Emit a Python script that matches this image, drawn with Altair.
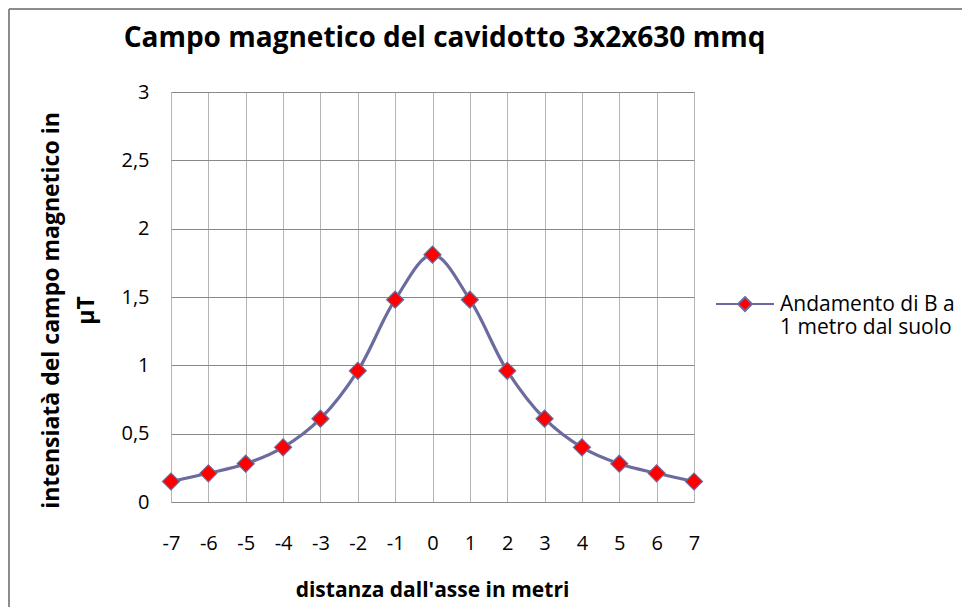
import altair as alt
import pandas as pd

distanza = [-7, -6, -5, -4, -3, -2, -1, 0, 1, 2, 3, 4, 5, 6, 7]
campo = [0.15, 0.21, 0.28, 0.40, 0.61, 0.96, 1.48, 1.81, 1.48, 0.96, 0.61, 0.40, 0.28, 0.21, 0.15]
y_ticks = [0, 0.5, 1, 1.5, 2, 2.5, 3]
serie = "Andamento di B a|1 metro dal suolo"
titolo = "Campo magnetico del cavidotto 3x2x630 mmq"
titolo_x = "distanza dall'asse in metri"
titolo_y = ["intensiatà del campo magnetico in", "µT"]

df = pd.DataFrame({"x": distanza, "y": campo, "serie": serie})

FONT = "Open Sans"
LINE = "#6B6B9E"
FRAME = "#8C8C8C"

x_enc = alt.X(
    "x:O",
    sort=distanza,
    scale=alt.Scale(type="point", padding=0, domain=distanza),
    axis=alt.Axis(
        title=titolo_x, grid=True, gridColor="#B4B4B4", gridWidth=1,
        domain=False, ticks=False, labelFontSize=20, labelPadding=31, labelFont=FONT,
        labelColor="#000000", labelExpr="toString(datum.value)", labelOverlap=False,
        labelAngle=0,
        titleFont=FONT, titleFontSize=21, titleFontWeight="bold",
        titleColor="#000000", titleBaseline="alphabetic", titleY=94, titleX=261,
    ),
)
y_enc = alt.Y(
    "y:Q",
    scale=alt.Scale(domain=[0, 3], nice=False),
    axis=alt.Axis(
        values=y_ticks, title=titolo_y, grid=True, gridColor="#888888", gridWidth=1,
        domain=False, ticks=False, labelFontSize=20, labelPadding=22, labelFont=FONT,
        labelColor="#000000", labelExpr="replace(toString(datum.value), '.', ',')",
        titleFont=FONT, titleFontSize=23, titleFontWeight="bold", titleColor="#000000",
        titleAngle=-90, titleBaseline="alphabetic", titleAlign="center",
        titleX=-113, titleY=218, titleLineHeight=35,
    ),
)

line = alt.Chart(df).mark_line(
    color=LINE, strokeWidth=3.2, interpolate="catmull-rom"
).encode(x=x_enc, y=y_enc)

points = alt.Chart(df).mark_point(
    shape="diamond", filled=True, size=290, stroke=LINE, strokeWidth=1.2, opacity=1
).encode(
    x=alt.X("x:O", sort=distanza),
    y="y:Q",
    fill=alt.Fill(
        "serie:N",
        scale=alt.Scale(range=["#FF0000"]),
        legend=alt.Legend(
            title=None, orient="none", legendX=544, legendY=189, padding=0,
            symbolType="M-1,-0.24L-0.24,-0.24M0.24,-0.24L1,-0.24M0,-0.48L0.24,-0.24L0,0L-0.24,-0.24Z",
            symbolSize=3364, symbolStrokeColor=LINE, symbolStrokeWidth=2,
            labelExpr="split(datum.label, '|')", labelFont=FONT, labelFontSize=21,
            labelColor="#000000", labelOffset=5, labelBaseline="alphabetic",
            labelLimit=300,
        ),
    ),
)

frame_top = alt.Chart(df).mark_rule(color=FRAME, strokeWidth=2).encode(
    x=alt.value(-162), x2=alt.value(800), y=alt.value(-83)
)
frame_left = alt.Chart(df).mark_rule(color=FRAME, strokeWidth=2).encode(
    x=alt.value(-162), y=alt.value(-83), y2=alt.value(520)
)

chart = alt.layer(line, points, frame_top, frame_left).properties(
    width=523,
    height=410,
    title=alt.TitleParams(
        titolo, font=FONT, fontSize=28, fontWeight="bold", color="#000000",
        anchor="middle", dx=12, baseline="alphabetic", offset=-67,
    ),
    autosize=alt.AutoSizeParams(type="none"),
    padding={"left": 163, "top": 84, "right": 268, "bottom": 105},
).configure_view(
    stroke="#7373A3", strokeWidth=2
).configure(background="white")

chart.save("out.html", embed_options={"renderer": "svg", "actions": False})
